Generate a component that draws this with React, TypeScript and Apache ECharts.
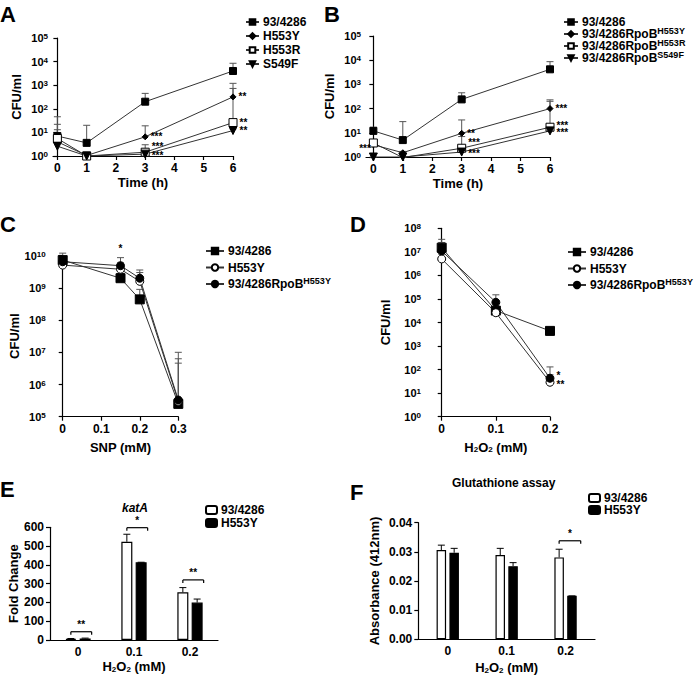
import React, { useEffect, useRef } from "react";
import * as echarts from "echarts";

const FONT = '"Liberation Sans", Arial, Helvetica, sans-serif';

// ---------- Panel A ----------
const hoursA = [0, 1, 3, 6];
const hourTicks = [0, 1, 2, 3, 4, 5, 6];
const seriesA = ["93/4286", "H553Y", "H553R", "S549F"];
const a_93 = [7, 3.6, 200, 4000];
const a_93_err = [46, 20, 450, 8500];
const a_H553Y = [4, 1.05, 6.5, 320];
const a_H553Y_err = [22, 1.1, 19, 1200];
const a_H553R = [5.5, 1.0, 1.45, 26];
const a_H553R_err = [13, 1.0, 3, 730];
const a_S549F = [2.6, 1.0, 1.2, 12];
const a_S549F_err = [3.5, 1.0, 1.4, 14];
const a_sig = [
  ["", "", "", ""],
  ["", "", "***", "**"],
  ["", "", "***", "**"],
  ["", "", "***", "**"],
];

// ---------- Panel B ----------
const hoursB = [0, 1, 3, 6];
const seriesB = ["93/4286", "93/4286RpoB^H553Y", "93/4286RpoB^H553R", "93/4286RpoB^S549F"];
const b_93 = [12, 5, 240, 4200];
const b_93_err = [17, 29, 450, 8700];
const b_H553Y = [3.2, 1.5, 9.5, 100];
const b_H553Y_err = [3.5, 1.7, 34, 230];
const b_H553R = [3.8, 0.95, 2.3, 17];
const b_H553R_err = [4.6, 1.0, 7, 200];
const b_S549F = [1.0, 1.0, 1.6, 12];
const b_S549F_err = [1.0, 1.0, 1.8, 13];
const b_sig = [
  ["", "", "", ""],
  ["", "", "**", "***"],
  ["", "", "***", "***"],
  ["***", "", "***", "***"],
];

// ---------- Panel C ----------
const snpDose = [0, 0.15, 0.2, 0.3];
const seriesC = ["93/4286", "H553Y", "93/4286RpoB^H553Y"];
const c_93 = [7.3e9, 2.0e9, 4.4e8, 2.5e5];
const c_93_err = [1.2e10, 2.8e9, 9e8, 4.6e6];
const c_H553Y = [5.1e9, 3.8e9, 1.6e9, 3.0e5];
const c_H553Y_err = [6.5e9, 6.0e9, 3.0e9, 6.3e6];
const c_Rpo = [6.5e9, 4.9e9, 2.0e9, 3.3e5];
const c_Rpo_err = [8.5e9, 8.7e9, 3.6e9, 1.0e7];
const c_sig = [
  ["", "", "", ""],
  ["", "", "", ""],
  ["", "*", "", ""],
];

// ---------- Panel D ----------
const h2o2D = [0, 0.1, 0.2];
const seriesD = ["93/4286", "H553Y", "93/4286RpoB^H553Y"];
const d_93 = [1.5e7, 3.2e4, 4.4e3];
const d_93_err = [3.4e7, 4.2e4, 5.6e3];
const d_H553Y = [5.0e6, 2.6e4, 29];
const d_H553Y_err = [8e6, 3.5e4, 60];
const d_Rpo = [1.1e7, 7.2e4, 43];
const d_Rpo_err = [2.5e7, 1.5e5, 130];
const d_sig = [
  ["", "", ""],
  ["", "", "**"],
  ["", "", "*"],
];

// ---------- Panels E & F ----------
const doseCats = ["0", "0.1", "0.2"];
const barSeries = ["93/4286", "H553Y"];
const e_93 = [6, 523, 254];
const e_93_err = [8, 563, 279];
const e_H553Y = [8, 414, 199];
const e_H553Y_err = [10, 414, 218];
const e_bracket = [44, 598, 320];
const e_sig = ["**", "*", "**"];

const f_93 = [0.0306, 0.0289, 0.0281];
const f_93_err = [0.0323, 0.0312, 0.0309];
const f_H553Y = [0.0297, 0.0251, 0.0149];
const f_H553Y_err = [0.0312, 0.0263, 0.0149];
const f_bracket = [0, 0, 0.0338];
const f_sig = ["", "", "*"];

const lg = (v: number) => Math.log10(v);

const sigLabelStyle = { fontFamily: FONT, fontSize: 10, fontWeight: "bold", color: "#000" };

function errSeries(idx: number, xs: number[], ys: number[], errs: number[], log: boolean, dx = 0, color = "#555") {
  return {
    type: "custom",
    coordinateSystem: "cartesian2d",
    xAxisIndex: idx,
    yAxisIndex: idx,
    silent: true,
    z: 1,
    encode: { x: 0, y: [1, 2] },
    data: xs.map((x, i) => [x, log ? lg(ys[i]) : ys[i], log ? lg(errs[i]) : errs[i]]),
    renderItem: (params: any, api: any) => {
      const p0 = api.coord([api.value(0), api.value(1)]);
      const p1 = api.coord([api.value(0), api.value(2)]);
      const x = p0[0] + dx;
      return {
        type: "group",
        children: [
          { type: "line", shape: { x1: x, y1: p0[1], x2: x, y2: p1[1] }, style: { stroke: color, lineWidth: 1 } },
          { type: "line", shape: { x1: x - 3.5, y1: p1[1], x2: x + 3.5, y2: p1[1] }, style: { stroke: color, lineWidth: 1 } },
        ],
      };
    },
  };
}

type Sym = { symbol: string; size: number; fill: string; rotate?: number };

function lineSeries(name: string, idx: number, xs: number[], ys: number[], sym: Sym, sig: string[], pos: (i: number) => any) {
  return {
    type: "line",
    name,
    xAxisIndex: idx,
    yAxisIndex: idx,
    z: 3,
    symbol: sym.symbol,
    symbolSize: sym.size,
    symbolRotate: sym.rotate || 0,
    itemStyle: { color: sym.fill, borderColor: "#000", borderWidth: 1 },
    lineStyle: { color: "#333", width: 1 },
    data: xs.map((x, i) => {
      const item: any = { value: [x, lg(ys[i])] };
      if (sig[i]) item.label = { show: true, formatter: sig[i], ...sigLabelStyle, ...pos(i) };
      return item;
    }),
  };
}

function bracketSeries(idx: number, ys: number[], sig: string[], left: number, right: number) {
  return {
    type: "custom",
    coordinateSystem: "cartesian2d",
    xAxisIndex: idx,
    yAxisIndex: idx,
    silent: true,
    z: 4,
    data: ys.map((v, i) => [i, v]).filter((d) => sig[d[0]] !== ""),
    renderItem: (params: any, api: any) => {
      const i = api.value(0);
      const c = api.coord([i, api.value(1)]);
      const x1 = c[0] - left;
      const x2 = c[0] + right;
      const y = c[1];
      return {
        type: "group",
        children: [
          { type: "line", shape: { x1, y1: y, x2, y2: y }, style: { stroke: "#000", lineWidth: 1.2 } },
          { type: "line", shape: { x1, y1: y, x2: x1, y2: y + 3 }, style: { stroke: "#000", lineWidth: 1.2 } },
          { type: "line", shape: { x1: x2, y1: y, x2, y2: y + 3 }, style: { stroke: "#000", lineWidth: 1.2 } },
          {
            type: "text",
            x: (x1 + x2) / 2,
            y: y - 2,
            style: {
              text: sig[i],
              textAlign: "center",
              textVerticalAlign: "bottom",
              fontFamily: FONT,
              fontSize: 10,
              fontWeight: "bold",
              fill: "#000",
            },
          },
        ],
      };
    },
  };
}

const legendFmt = (n: string) => {
  const t = n.slice(n.indexOf(":") + 1);
  const [b, s] = t.split("^");
  return s ? `${b}{sup|${s}}` : b;
};

function legend(
  names: string[], left: number, top: number, itemGap: number, itemWidth: number, itemHeight: number, lineHeight?: number
) {
  const ts: any = {
    fontFamily: FONT,
    fontSize: 12,
    fontWeight: "bold",
    color: "#000",
    padding: [0, 0, 0, -1],
    rich: { sup: { fontFamily: FONT, fontSize: 9, fontWeight: "bold", color: "#000", verticalAlign: "top", lineHeight: 9 } },
  };
  if (lineHeight) ts.lineHeight = lineHeight;
  return {
    orient: "vertical",
    left,
    top,
    itemGap,
    itemWidth,
    itemHeight,
    padding: 0,
    selectedMode: false,
    data: names,
    formatter: legendFmt,
    textStyle: ts,
  };
}

const axisLine = { show: true, lineStyle: { color: "#000", width: 1.2 } };
const axisTick = { show: true, length: 4, lineStyle: { color: "#000", width: 1.2 } };
const labelBase = { color: "#000", fontFamily: FONT, fontWeight: "bold", fontSize: 12 };
const nameStyle = {
  color: "#000",
  fontFamily: FONT,
  fontWeight: "bold",
  fontSize: 13,
  rich: { sub: { fontFamily: FONT, fontWeight: "bold", fontSize: 8, color: "#000", verticalAlign: "bottom" } },
};
const supRich = { sup: { fontFamily: FONT, fontWeight: "bold", fontSize: 8, color: "#000", verticalAlign: "top", lineHeight: 8 } };
const H2O2 = "H{sub|2}O{sub|2} (mM)";

function xVal(grid: number, min: number, max: number, name: string, gap: number, extra: any = {}) {
  return {
    type: "value",
    gridIndex: grid,
    min,
    max,
    name,
    nameLocation: "middle",
    nameGap: gap,
    nameTextStyle: nameStyle,
    axisLine,
    axisTick: { ...axisTick, ...(extra.tick || {}) },
    splitLine: { show: false },
    axisLabel: { ...labelBase, margin: 6, ...(extra.label || {}) },
    ...(extra.axis || {}),
  };
}

function yLog(grid: number, min: number, max: number, gap: number, offset = 0) {
  return {
    type: "value",
    gridIndex: grid,
    min,
    max,
    interval: 1,
    offset,
    name: "CFU/ml",
    nameLocation: "middle",
    nameGap: gap,
    nameTextStyle: nameStyle,
    axisLine,
    axisTick,
    splitLine: { show: false },
    axisLabel: { ...labelBase, fontSize: 11, margin: 5, formatter: (v: number) => `10{sup|${v}}`, rich: supRich },
  };
}

function catX(grid: number, gap: number) {
  return {
    type: "category",
    gridIndex: grid,
    data: doseCats,
    name: H2O2,
    nameLocation: "middle",
    nameGap: gap,
    nameTextStyle: nameStyle,
    axisLine,
    axisTick: { show: false },
    splitLine: { show: false },
    axisLabel: { ...labelBase, margin: 6 },
  };
}

const symA: Sym[] = [
  { symbol: "rect", size: 7, fill: "#000" },
  { symbol: "diamond", size: 6, fill: "#000" },
  { symbol: "rect", size: 8, fill: "#fff" },
  { symbol: "triangle", size: 8, fill: "#000", rotate: 180 },
];
const symC: Sym[] = [
  { symbol: "rect", size: 9, fill: "#000" },
  { symbol: "circle", size: 8, fill: "#fff" },
  { symbol: "circle", size: 8, fill: "#000" },
];

// small vertical nudges of the significance labels (series index - point index -> px)
const nudgeA: Record<string, number> = { "2-2": -6, "3-2": 1 };
const nudgeB: Record<string, number> = { "2-2": -6, "3-2": 1, "2-3": -2, "3-3": 2 };
const nudgeD: Record<string, number> = { "1-2": 2, "2-2": -3 };

function buildOption() {
  const aVals = [a_93, a_H553Y, a_H553R, a_S549F];
  const aErrs = [a_93_err, a_H553Y_err, a_H553R_err, a_S549F_err];
  const bVals = [b_93, b_H553Y, b_H553R, b_S549F];
  const bErrs = [b_93_err, b_H553Y_err, b_H553R_err, b_S549F_err];
  const cVals = [c_93, c_H553Y, c_Rpo];
  const cErrs = [c_93_err, c_H553Y_err, c_Rpo_err];
  const dVals = [d_93, d_H553Y, d_Rpo];
  const dErrs = [d_93_err, d_H553Y_err, d_Rpo_err];

  const series: any[] = [];
  seriesA.forEach((n, k) => {
    series.push(errSeries(0, hoursA, aVals[k], aErrs[k], true));
    series.push(
      lineSeries("A:" + n, 0, hoursA, aVals[k], symA[k], a_sig[k], (i) => ({
        position: "right", distance: 2, offset: [0, nudgeA[`${k}-${i}`] || 0],
      }))
    );
  });
  seriesB.forEach((n, k) => {
    series.push(errSeries(1, hoursB, bVals[k], bErrs[k], true));
    series.push(
      lineSeries("B:" + n, 1, hoursB, bVals[k], symA[k], b_sig[k], (i) =>
        i === 0
          ? { position: "left", distance: 1, offset: [3, -9] }
          : { position: "right", distance: 2, offset: [0, nudgeB[`${k}-${i}`] || 0] }
      )
    );
  });
  seriesC.forEach((n, k) => {
    series.push(errSeries(2, snpDose, cVals[k], cErrs[k], true));
    series.push(lineSeries("C:" + n, 2, snpDose, cVals[k], symC[k], c_sig[k], () => ({ position: "top", distance: 8 })));
  });
  seriesD.forEach((n, k) => {
    series.push(errSeries(3, h2o2D, dVals[k], dErrs[k], true));
    series.push(
      lineSeries("D:" + n, 3, h2o2D, dVals[k], symC[k], d_sig[k], (i) => ({
        position: "right", distance: 2, offset: [0, nudgeD[`${k}-${i}`] || 0],
      }))
    );
  });

  const idx3 = [0, 1, 2];
  // Panel E bars
  const eBW = 11;
  const eOff = (eBW + eBW * 0.3) / 2;
  series.push({
    type: "bar", name: "E:" + barSeries[0], xAxisIndex: 4, yAxisIndex: 4, barWidth: eBW, barGap: "30%", z: 2,
    itemStyle: { color: "#fff", borderColor: "#000", borderWidth: 1.2 }, data: e_93,
  });
  series.push({
    type: "bar", name: "E:" + barSeries[1], xAxisIndex: 4, yAxisIndex: 4, barWidth: eBW, barGap: "30%", z: 2,
    itemStyle: { color: "#000", borderColor: "#000", borderWidth: 1.2 }, data: e_H553Y,
  });
  series.push(errSeries(4, idx3, e_93, e_93_err, false, -eOff, "#000"));
  series.push(errSeries(4, idx3, e_H553Y, e_H553Y_err, false, eOff, "#000"));
  series.push(bracketSeries(4, e_bracket, e_sig, eOff, eOff + eBW / 2 + 1));

  // Panel F bars
  const fBW = 9.5;
  const fOff = (fBW + fBW * 0.35) / 2;
  series.push({
    type: "bar", name: "F:" + barSeries[0], xAxisIndex: 5, yAxisIndex: 5, barWidth: fBW, barGap: "35%", z: 2,
    itemStyle: { color: "#fff", borderColor: "#000", borderWidth: 1.2 }, data: f_93,
  });
  series.push({
    type: "bar", name: "F:" + barSeries[1], xAxisIndex: 5, yAxisIndex: 5, barWidth: fBW, barGap: "35%", z: 2,
    itemStyle: { color: "#000", borderColor: "#000", borderWidth: 1.2 }, data: f_H553Y,
  });
  series.push(errSeries(5, idx3, f_93, f_93_err, false, -fOff, "#000"));
  series.push(errSeries(5, idx3, f_H553Y, f_H553Y_err, false, fOff, "#000"));
  series.push(bracketSeries(5, f_bracket, f_sig, fOff, fOff + fBW / 2 + 4));

  const letter = (t: string, left: number, top: number) => ({
    type: "text", left, top, style: { text: t, fontFamily: FONT, fontSize: 22, fontWeight: "bold", fill: "#000" },
  });

  return {
    animation: false,
    backgroundColor: "#fff",
    grid: [
      { left: 53, top: 38, width: 180, height: 118 },
      { left: 366, top: 36, width: 184, height: 121 },
      { left: 62.7, top: 255.7, width: 115.6, height: 161 },
      { left: 441.7, top: 228.3, width: 108.3, height: 188.4 },
      { left: 50, top: 527.3, width: 168, height: 112.7 },
      { left: 418.3, top: 522.7, width: 176.7, height: 116.6 },
    ],
    xAxis: [
      xVal(0, -0.15, 6, "Time (h)", 20, { tick: { customValues: hourTicks }, label: { customValues: hourTicks } }),
      xVal(1, -0.25, 6, "Time (h)", 20, { tick: { customValues: hourTicks }, label: { customValues: hourTicks } }),
      xVal(2, 0, 0.3, "SNP (mM)", 24, { axis: { interval: 0.1 } }),
      xVal(3, 0, 0.2, H2O2, 24, { axis: { interval: 0.1 } }),
      catX(4, 20),
      catX(5, 22),
    ],
    yAxis: [
      yLog(0, 0, 5, 30),
      yLog(1, 0, 5, 30),
      yLog(2, 5, 10, 28, 12),
      yLog(3, 0, 8, 34, 15.7),
      {
        type: "value", gridIndex: 4, min: 0, max: 600, interval: 100, name: "Fold Change", nameLocation: "middle", nameGap: 29,
        nameTextStyle: nameStyle, axisLine, axisTick, splitLine: { show: false }, axisLabel: { ...labelBase, margin: 6 },
      },
      {
        type: "value", gridIndex: 5, min: 0, max: 0.04, interval: 0.01, name: "Absorbance (412nm)", nameLocation: "middle", nameGap: 37,
        nameTextStyle: nameStyle, axisLine, axisTick, splitLine: { show: false },
        axisLabel: { ...labelBase, margin: 6, formatter: (v: number) => v.toFixed(2) },
      },
    ],
    legend: [
      legend(seriesA.map((n) => "A:" + n), 245, 16, 2, 13, 7),
      legend(seriesB.map((n) => "B:" + n), 563, 14, -4, 14, 7, 16),
      legend(seriesC.map((n) => "C:" + n), 205, 243, 0.5, 18, 8, 16),
      legend(seriesD.map((n) => "D:" + n), 567, 244, 0.5, 18, 8, 16),
      legend(barSeries.map((n) => "E:" + n), 205, 504, 1, 11, 8),
      legend(barSeries.map((n) => "F:" + n), 588, 492, 0, 11, 8),
    ],
    graphic: [
      letter("A", 0, 3),
      letter("B", 324, 3),
      letter("C", 0, 213),
      letter("D", 350, 213),
      letter("E", 0, 478),
      letter("F", 350, 481),
      {
        type: "text", left: 122, top: 502,
        style: { text: "katA", fontFamily: FONT, fontSize: 12, fontWeight: "bold", fontStyle: "italic", fill: "#000" },
      },
      {
        type: "text", left: 452, top: 477,
        style: { text: "Glutathione assay", fontFamily: FONT, fontSize: 12, fontWeight: "bold", fill: "#000" },
      },
    ],
    series,
  };
}

export default function App() {
  const ref = useRef<HTMLDivElement>(null);
  useEffect(() => {
    const chart = echarts.init(ref.current!, null, { renderer: "svg" });
    chart.setOption(buildOption() as any);
    return () => chart.dispose();
  }, []);
  return (
    <div
      ref={ref}
      style={{ position: "fixed", left: 0, top: 0, width: 700, height: 678, background: "#fff" }}
    />
  );
}
